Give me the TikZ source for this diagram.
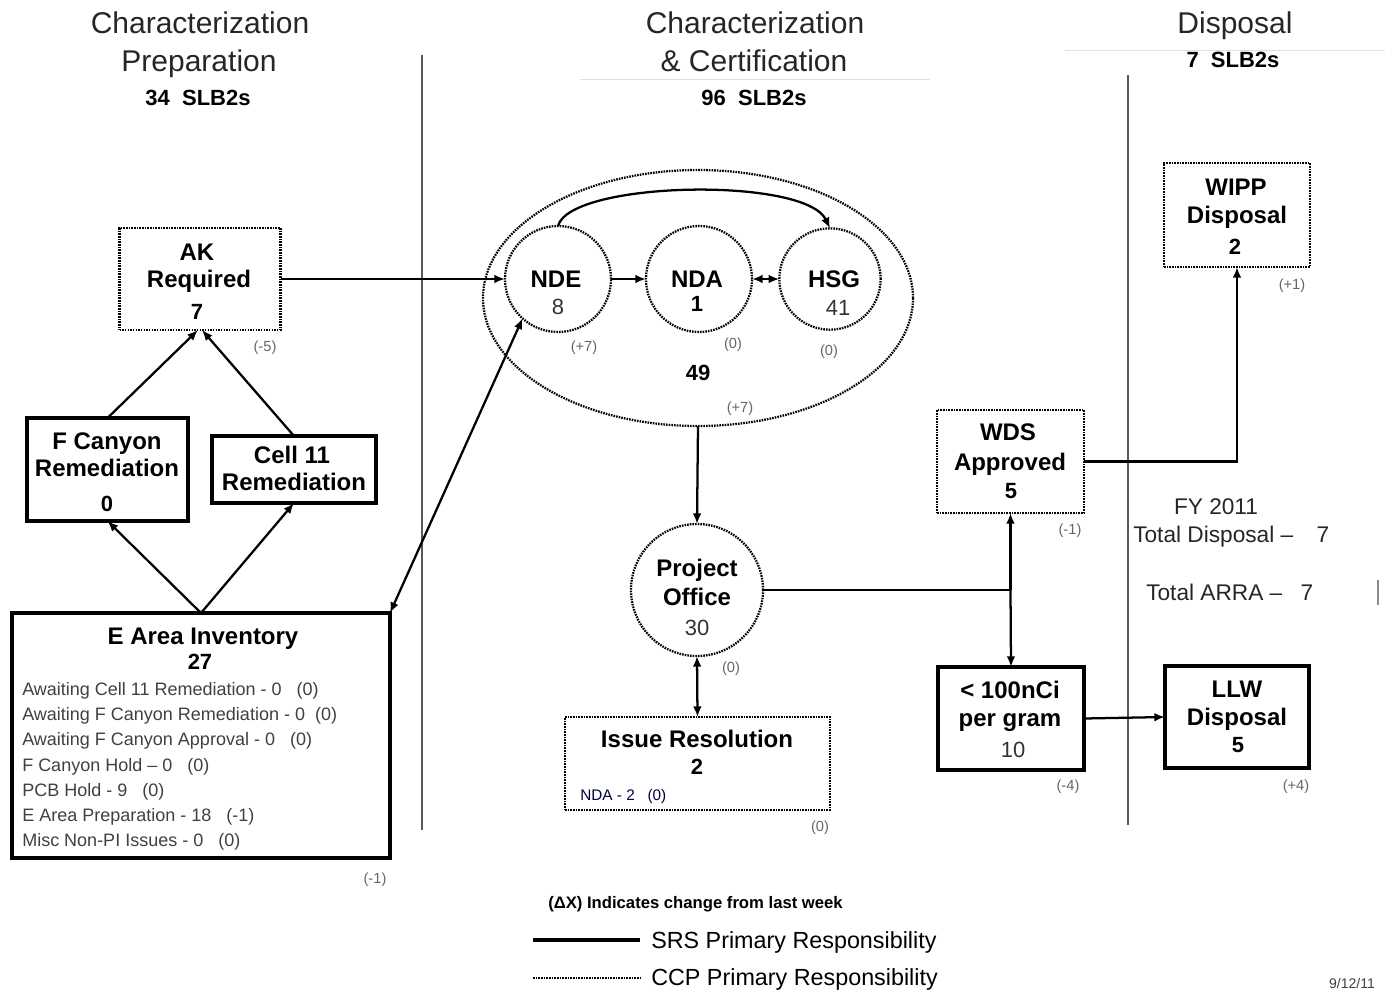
\documentclass[tikz,border=0pt]{standalone}
\usepackage{fontspec}
\setmainfont{Liberation Sans}
\usetikzlibrary{arrows.meta,shapes.geometric}
\begin{document}
\begin{tikzpicture}[x=0.75pt,y=-0.75pt,
 dotln/.style={line width=1.7pt, dash pattern=on 1.2pt off 0.8pt},
 dotbox/.style={draw, dotln, rectangle, inner sep=0pt, outer sep=0pt},
 solbox/.style={draw, line width=2.3pt, rectangle, inner sep=0pt, outer sep=0pt},
 circ/.style={draw, dotln, circle, inner sep=0pt, outer sep=0pt},
 arr/.style={line width=1.7pt, -{Latex[length=8pt,width=6.5pt]}},
 dbl/.style={line width=1.7pt, {Latex[length=8pt,width=6.5pt]}-{Latex[length=8pt,width=6.5pt]}},
 t/.style={inner sep=0pt, text height=0.72em, text depth=0pt, yshift=-3pt},
 bt/.style={t, font=\fontsize{18}{20}\selectfont\bfseries},
 nb/.style={t, font=\fontsize{16.5}{18}\selectfont\bfseries},
 nr/.style={t, font=\fontsize{16.5}{18}\selectfont, text=black!80},
 hd/.style={t, font=\fontsize{22.5}{24}\selectfont, text=black!85},
 sl/.style={t, font=\fontsize{16.5}{18}\selectfont\bfseries},
 chg/.style={t, font=\fontsize{11}{12}\selectfont, text=black!60},
 lst/.style={t, anchor=west, font=\fontsize{13.5}{15}\selectfont, text=black!75},
 divider/.style={line width=1.3pt, draw=black!65},
 faint/.style={line width=0.6pt, draw=black!12},
 txt/.style={t, font=\fontsize{17}{19}\selectfont, text=black!85},
]
\useasboundingbox (0,0) rectangle (1385,990);

% headers
\node[hd] (h1a) at (200,25) {Characterization};
\node[hd] (h1b) at (199,63) {Preparation};
\node[sl] (h1c) at (198,97) {34\ \ SLB2s};
\node[hd] (h2a) at (755,25) {Characterization};
\node[hd] (h2b) at (754,63) {\& Certification};
\node[sl] (h2c) at (754,97) {96\ \ SLB2s};
\node[hd] (h3a) at (1235,25) {Disposal};
\node[sl] (h3b) at (1233,59) {7\ \ SLB2s};
\draw[faint] (580,79) -- (930,79);
\draw[faint] (1065,50) -- (1385,50);

% dividers
\draw[divider] (422,55) -- (422,830);
\draw[divider] (1128,75) -- (1128,825);
\draw[line width=1pt, draw=black!45] (1378,580) -- (1378,605);

% left column
\node[dotbox, minimum width=120.75pt, minimum height=76.5pt] (AK) at (200,279) {};
\node[bt] (AKt1) at (197,252) {AK};
\node[bt] (AKt2) at (199,279) {Required};
\node[nb] (AKn) at (197,311) {7};
\node[chg] (AKc) at (265,343) {(-5)};

\node[solbox, minimum width=120.75pt, minimum height=77.25pt] (FC) at (107.5,469.5) {};
\node[bt] (FCt1) at (107,441) {F Canyon};
\node[bt] (FCt2) at (107,468) {Remediation};
\node[nb] (FCn) at (107,503) {0};

\node[solbox, minimum width=123pt, minimum height=50.25pt] (C11) at (294,469.5) {};
\node[bt] (C11t1) at (292,455) {Cell 11};
\node[bt] (C11t2) at (294,482) {Remediation};

\node[solbox, minimum width=283.5pt, minimum height=183.75pt] (EA) at (201,735.5) {};
\node[bt] (EAt) at (203,636) {E Area Inventory};
\node[nb] (EAn) at (200,661) {27};
\node[lst] (L1) at (22,687) {Awaiting Cell 11 Remediation - 0\ \ \ (0)};
\node[lst] (L2) at (22,712) {Awaiting F Canyon Remediation - 0\ \ (0)};
\node[lst] (L3) at (22,737) {Awaiting F Canyon Approval - 0\ \ \ (0)};
\node[lst] (L4) at (22,763) {F Canyon Hold – 0\ \ \ (0)};
\node[lst] (L5) at (22,788) {PCB Hold - 9\ \ \ (0)};
\node[lst] (L6) at (22,813) {E Area Preparation - 18\ \ \ (-1)};
\node[lst] (L7) at (22,838) {Misc Non-PI Issues - 0\ \ \ (0)};
\node[chg] (EAc) at (375,875) {(-1)};

% middle column
\node[draw, dotln, ellipse, inner sep=0pt, outer sep=0pt, minimum width=322.5pt, minimum height=192pt] (grp) at (698,298) {};
\node[circ, minimum size=79.5pt] (NDE) at (558,279) {};
\node[bt] (NDEt) at (556,279) {NDE};
\node[nr] (NDEn) at (558,306) {8};
\node[circ, minimum size=79.5pt] (NDA) at (699,279) {};
\node[bt] (NDAt) at (697,279) {NDA};
\node[nb] (NDAn) at (697,303) {1};
\node[circ, minimum size=76pt] (HSG) at (830,279) {};
\node[bt] (HSGt) at (834,279) {HSG};
\node[nr] (HSGn) at (838,307) {41};
\node[chg] (NDEc) at (584,343) {(+7)};
\node[chg] (NDAc) at (733,340) {(0)};
\node[chg] (HSGc) at (829,347) {(0)};
\node[nb] (grpn) at (698,372) {49};
\node[chg] (grpc) at (740,404) {(+7)};

\node[circ, minimum size=99pt] (PO) at (697,590) {};
\node[bt] (POt1) at (697,568) {Project};
\node[bt] (POt2) at (697,597) {Office};
\node[nr] (POn) at (697,627) {30};
\node[chg] (POc) at (731,664) {(0)};

\node[dotbox, minimum width=198.75pt, minimum height=69.75pt] (IR) at (697.5,763.5) {};
\node[bt] (IRt) at (697,739) {Issue Resolution};
\node[nb] (IRn) at (697,766) {2};
\node[t, anchor=west, font=\fontsize{11.5}{13}\selectfont, text=black!70!blue!80!black] (IRl) at (580,792) {NDA - 2\ \ \ (0)};
\node[chg] (IRc) at (820,823) {(0)};

% right column
\node[dotbox, minimum width=110.25pt, minimum height=77.25pt] (WDS) at (1010.5,461.5) {};
\node[bt] (WDSt1) at (1008,432) {WDS};
\node[bt] (WDSt2) at (1010,462) {Approved};
\node[nb] (WDSn) at (1011,490) {5};
\node[chg] (WDSc) at (1070,526) {(-1)};

\node[dotbox, minimum width=109.5pt, minimum height=78pt] (WIPP) at (1237,215) {};
\node[bt] (WIPPt1) at (1236,187) {WIPP};
\node[bt] (WIPPt2) at (1237,215) {Disposal};
\node[nb] (WIPPn) at (1235,246) {2};
\node[chg] (WIPPc) at (1292,281) {(+1)};

\node[solbox, minimum width=109.5pt, minimum height=77.25pt] (LT) at (1011,718.5) {};
\node[bt] (LTt1) at (1010,690) {< 100nCi};
\node[bt] (LTt2) at (1010,718) {per gram};
\node[nr] (LTn) at (1013,749) {10};
\node[chg] (LTc) at (1068,782) {(-4)};

\node[solbox, minimum width=108pt, minimum height=76.5pt] (LLW) at (1237,717) {};
\node[bt] (LLWt1) at (1237,689) {LLW};
\node[bt] (LLWt2) at (1237,717) {Disposal};
\node[nb] (LLWn) at (1238,744) {5};
\node[chg] (LLWc) at (1296,782) {(+4)};

\node[txt] (fy) at (1216,506) {FY 2011};
\node[txt, anchor=west] (td) at (1133,534) {Total Disposal –};
\node[txt] (tdn) at (1323,534) {7};
\node[txt, anchor=west] (ta) at (1146,592) {Total ARRA –};
\node[txt] (tan) at (1307,592) {7};

% connectors
\draw[arr] (AK.east) -- (NDE.west);
\draw[arr] (FC.north) -- ([xshift=-1.5pt]AK.south);
\draw[arr] (C11.north) -- ([xshift=1.5pt]AK.south);
\draw[arr] (EA.north) -- (FC.south);
\draw[arr] (EA.north) -- (C11.south);
\draw[dbl] (EA.north east) -- (NDE.228);
\draw[arr] (NDE.east) -- (NDA.west);
\draw[dbl] (NDA.east) -- (HSG.west);
\draw[arr] (NDE.north) .. controls +(12,-45) and +(-25,-52) .. (HSG.north);
\draw[arr] (grp.south) -- (PO.north);
\draw[dbl] (PO.south) -- (IR.north);
\coordinate (J) at (PO.east -| WDS.south);
\draw[line width=1.7pt] (PO.east) -- (J);
\draw[arr] (J) -- (WDS.south);
\draw[arr] (J) -- (LT.north);
\draw[arr] (WDS.east) -| (WIPP.south);
\draw[arr] (LT.east) -- (LLW.west);

% legend
\node[t, anchor=west, font=\fontsize{12.5}{14}\selectfont\bfseries] (lg0) at (548,900) {(ΔX) Indicates change from last week};
\coordinate (s1) at (533,940);
\coordinate (s2) at (640,940);
\draw[line width=2.3pt] (s1) -- (s2);
\node[t, anchor=west, font=\fontsize{17.5}{19}\selectfont] (lg1) at (651,940) {SRS Primary Responsibility};
\coordinate (d1) at (533,978);
\coordinate (d2) at (640,978);
\draw[dotln] (d1) -- (d2);
\node[t, anchor=west, font=\fontsize{17.5}{19}\selectfont] (lg2) at (651,977) {CCP Primary Responsibility};
\node[t, font=\fontsize{10.5}{12}\selectfont, text=black!75] (date) at (1352,980) {9/12/11};
\end{tikzpicture}
\end{document}
